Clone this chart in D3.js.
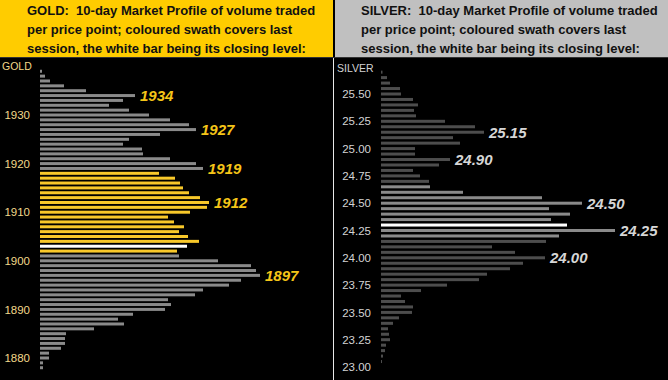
<!DOCTYPE html>
<html>
<head>
<meta charset="utf-8">
<script src="https://cdn.jsdelivr.net/npm/d3@7"></script>
<style>
    body { margin: 0; background: #000; }
    svg { display: block; font-family: "Liberation Sans", Arial, sans-serif; }
</style>
</head>
<body>
<div id="graph"></div>
<script>
// gold: one bar per $1, top to bottom
const goldPrices = d3.range(1939, 1877, -1)
const goldVolume = [
    2, 5, 10, 24, 46, 95, 83, 69, 89, 109,
    130, 149, 156, 120, 89, 83, 102, 103, 130, 156,
    163, 119, 135, 140, 143, 149, 160, 169, 167, 150,
    128, 134, 144, 139, 148, 159, 147, 137, 139, 178,
    211, 216, 220, 201, 189, 163, 155, 128, 131, 125,
    93, 78, 84, 54, 26, 25, 25, 21, 9, 9,
    3, 3,
]
const goldTicks = [1930, 1920, 1910, 1900, 1890, 1880]
const goldSession = [1902, 1918]
const goldClose = 1903
const goldLabels = [1934, 1927, 1919, 1912, 1897]

// silver: one bar per 5 cents
const silverPrices = d3.range(2570, 2304, -5).map(d => d / 100)
const silverVolume = [
    1.5, 6, 9, 19, 20, 32, 37, 33, 35, 64,
    94, 103, 72, 79, 34, 34, 69, 58, 32, 39,
    48, 49, 82, 161, 201, 168, 189, 170, 186, 234,
    178, 165, 111, 134, 164, 142, 129, 106, 98, 66,
    40, 20, 24, 32, 31, 18, 12, 7, 8, 9,
    5, 4, 2, 1,
]
const silverTicks = [25.5, 25.25, 25.0, 24.75, 24.5, 24.25, 24.0, 23.75, 23.5, 23.25, 23.0]
const silverSession = [24.20, 24.65]
const silverClose = 24.30
const silverLabels = [25.15, 24.90, 24.50, 24.25, 24.00]

const w = 668;
const h = 380;
const svg = d3.select('#graph').append('svg').attr('width', w).attr('height', h)

svg.append('rect').attr('width', w).attr('height', h).attr('fill', '#000')

function panel(opt) {
    const g = svg.append('g')
    const x = d3.scaleLinear().domain([0, 100]).range([0, 100])
    const y = d3.scaleLinear().domain(opt.yDomain).range(opt.yRange)

    // header band
    g.append('rect')
        .attr('x', opt.left).attr('y', 0)
        .attr('width', opt.width).attr('height', 57)
        .attr('fill', opt.band)
    g.selectAll('.head')
        .data(opt.title)
        .enter()
        .append('text')
        .attr('x', opt.left + opt.textX)
        .attr('y', (d, i) => 14.5 + i * 19.2)
        .attr('font-size', '13px')
        .attr('font-weight', 'bold')
        .attr('fill', '#111')
        .attr('xml:space', 'preserve')
        .style('white-space', 'pre')
        .text(d => d)

    const bars = opt.prices.map((p, i) => ({ p: p, v: opt.volume[i] }))
    g.selectAll('.bar')
        .data(bars)
        .enter()
        .append('rect')
        .attr('x', opt.barX)
        .attr('y', d => y(d.p) - 1.5)
        .attr('width', d => x(d.v))
        .attr('height', 3)
        .attr('fill', d => {
            if (Math.abs(d.p - opt.close) < 1e-6) return '#ffffff'
            if (d.p >= opt.session[0] - 1e-6 && d.p <= opt.session[1] + 1e-6) return opt.swath
            return opt.grey
        })

    // y axis labels
    const axis = d3.axisLeft(y).tickValues(opt.ticks).tickSize(0).tickPadding(0).tickFormat(opt.fmt)
    const ax = g.append('g').attr('transform', `translate(${opt.axisX},0)`).call(axis)
    ax.select('.domain').remove()
    ax.selectAll('text')
        .attr('font-family', '"Liberation Sans", Arial, sans-serif')
        .attr('font-size', '11.5px')
        .attr('fill', opt.tickColor)

    g.append('text')
        .attr('x', opt.nameX).attr('y', opt.nameY)
        .attr('font-size', '10.5px')
        .attr('fill', opt.tickColor)
        .text(opt.name)

    // highlighted price labels
    g.selectAll('.lab')
        .data(opt.labels)
        .enter()
        .append('text')
        .attr('x', d => opt.barX + x(bars.find(b => Math.abs(b.p - d) < 1e-6).v) + 5)
        .attr('y', d => y(d))
        .attr('dy', '0.36em')
        .attr('font-size', '15px')
        .attr('font-weight', 'bold')
        .attr('font-style', 'italic')
        .attr('fill', opt.labelColor)
        .text(d => opt.fmt(d))
}

panel({
    left: 0, width: 333, textX: 27, band: '#ffcc00',
    title: ['GOLD:  10-day Market Profile of volume traded', 'per price point; coloured swath covers last', 'session, the white bar being its closing level:'],
    prices: goldPrices, volume: goldVolume, ticks: goldTicks,
    session: goldSession, close: goldClose, labels: goldLabels,
    yDomain: [1930, 1880], yRange: [115, 358],
    barX: 40, axisX: 30, nameX: 2, nameY: 70, name: 'GOLD',
    fmt: d3.format('d'),
    grey: '#8a8a8a', swath: '#f8c82a', tickColor: '#f2d88a', labelColor: '#f5c518',
})

panel({
    left: 335, width: 333, textX: 26, band: '#c0c0c0',
    title: ['SILVER:  10-day Market Profile of volume traded', 'per price point; coloured swath covers last', 'session, the white bar being its closing level:'],
    prices: silverPrices, volume: silverVolume, ticks: silverTicks,
    session: silverSession, close: silverClose, labels: silverLabels,
    yDomain: [25.5, 23.0], yRange: [94, 367],
    barX: 381, axisX: 371, nameX: 337, nameY: 72, name: 'SILVER',
    fmt: d3.format('.2f'),
    grey: '#4d4d4d', swath: '#8a8a8a', tickColor: '#d4d4d4', labelColor: '#d6d6d6',
})

// divider between the panels
svg.append('line')
    .attr('x1', 333.5).attr('x2', 333.5).attr('y1', 57).attr('y2', h)
    .attr('stroke', '#e8e8e8').attr('stroke-width', 1)
svg.append('line')
    .attr('x1', 0).attr('x2', w).attr('y1', 57.5).attr('y2', 57.5)
    .attr('stroke', '#333').attr('stroke-width', 1)
</script>
</body>
</html>
